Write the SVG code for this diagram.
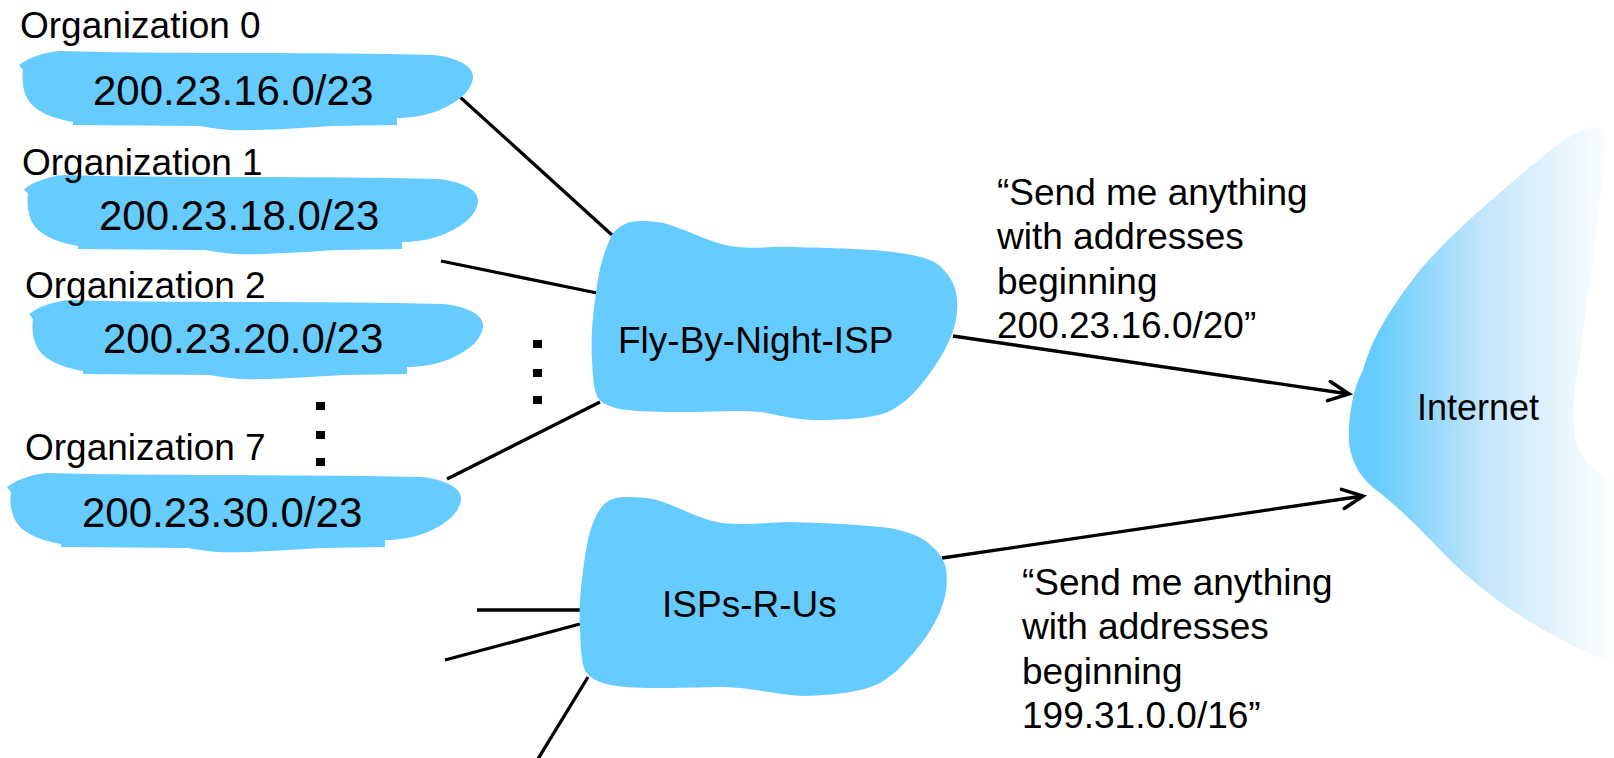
<svg xmlns="http://www.w3.org/2000/svg" width="1614" height="758" viewBox="0 0 1614 758">
  <style>
    .t { font-family: "Liberation Sans", Arial, sans-serif; fill: #000; }
    .lbl { font-size: 37px; }
    .ip { font-size: 42px; }
    .blob { fill: #66CCFF; }
    .ln { stroke: #000; stroke-width: 3.3; fill: none; }
    .dot { fill: #000; }
  </style>
  <defs>
    <path id="orgBlob" d="M 19 65 C 30 57, 45 52, 60 51 C 150 54, 300 52, 433 55 C 462 58, 474 68, 473 78 C 471 90, 462 100, 440 110 C 425 116, 410 118, 397 118 L 397 125 L 333 126 C 300 128, 260 131, 230 130 C 215 129, 207 127, 200 126 L 73 125 L 73 122 C 50 118, 32 110, 26 96 C 22 86, 22 76, 23 70 Z"/>
    <linearGradient id="netGrad" gradientUnits="userSpaceOnUse" x1="1375" y1="0" x2="1614" y2="0">
      <stop offset="0" stop-color="#66CCFF"/>
      <stop offset="0.45" stop-color="#C2E5FB"/>
      <stop offset="1" stop-color="#FFFFFF"/>
    </linearGradient>
    <marker id="arr" markerUnits="userSpaceOnUse" markerWidth="30" markerHeight="30" refX="0" refY="0" viewBox="-24 -12 28 24" orient="auto" overflow="visible">
      <path d="M -19 -9 L 0 0 L -19 9" fill="none" stroke="#000" stroke-width="3.3" stroke-linecap="round" stroke-linejoin="miter"/>
    </marker>
  </defs>

  <!-- Internet -->
  <g id="internet">
    <path d="M 1597 128 C 1606 130, 1607 140, 1605 155 C 1600 210, 1585 320, 1575 390 C 1571 430, 1575 450, 1590 465 C 1600 473, 1608 478, 1614 481 L 1614 662 C 1590 655, 1560 640, 1527 620 C 1500 603, 1480 588, 1453 563 C 1430 540, 1410 517, 1380 493 C 1362 480, 1352 465, 1349 443 C 1348 420, 1352 390, 1363 370 C 1372 340, 1385 315, 1420 270 C 1450 235, 1490 200, 1547 153 C 1570 135, 1585 126, 1597 128 Z" fill="url(#netGrad)"/>
    <text class="t" x="1417" y="420" font-size="36">Internet</text>
  </g>

  <!-- connectors -->
  <g id="connectors">
    <line class="ln" x1="460" y1="97" x2="612" y2="235"/>
    <line class="ln" x1="441" y1="261" x2="597" y2="293"/>
    <line class="ln" x1="447" y1="479" x2="600" y2="402"/>
    <line class="ln" x1="953" y1="336" x2="1349" y2="394" marker-end="url(#arr)"/>
    <line class="ln" x1="942" y1="558" x2="1363" y2="496" marker-end="url(#arr)"/>
    <line class="ln" x1="477" y1="610" x2="580" y2="610"/>
    <line class="ln" x1="445" y1="660" x2="580" y2="624"/>
    <line class="ln" x1="588" y1="677" x2="530" y2="772"/>
  </g>

  <!-- organizations -->
  <g id="org0">
    <use href="#orgBlob" class="blob"/>
    <text class="t lbl" x="20" y="38">Organization 0</text>
    <text class="t ip" x="93" y="105">200.23.16.0/23</text>
  </g>
  <g id="org1">
    <use href="#orgBlob" class="blob" transform="translate(5,124)"/>
    <text class="t lbl" x="22" y="175">Organization 1</text>
    <text class="t ip" x="99" y="230">200.23.18.0/23</text>
  </g>
  <g id="org2">
    <use href="#orgBlob" class="blob" transform="translate(10,249)"/>
    <text class="t lbl" x="25" y="298">Organization 2</text>
    <text class="t ip" x="103" y="353">200.23.20.0/23</text>
  </g>
  <g id="org7">
    <use href="#orgBlob" class="blob" transform="translate(-12,422)"/>
    <text class="t lbl" x="25" y="460">Organization 7</text>
    <text class="t ip" x="82" y="527">200.23.30.0/23</text>
  </g>

  <!-- ellipses -->
  <g id="dots-orgs">
    <rect class="dot" x="316" y="402" width="9" height="8"/>
    <rect class="dot" x="316" y="431" width="9" height="8"/>
    <rect class="dot" x="316" y="458" width="9" height="8"/>
  </g>
  <g id="dots-isp">
    <rect class="dot" x="533" y="340" width="9" height="8"/>
    <rect class="dot" x="533" y="369" width="9" height="8"/>
    <rect class="dot" x="533" y="396" width="9" height="8"/>
  </g>

  <!-- ISPs -->
  <g id="flybynight">
    <path class="blob" d="M 612 235 C 618 226, 628 221, 640 221 C 652 221, 662 222, 670 225 C 695 233, 715 245, 737 247 C 760 249, 775 246, 793 247 C 830 248, 870 249, 893 252 C 915 255, 930 258, 940 266 C 955 280, 960 295, 956 320 C 952 340, 940 360, 927 377 C 915 393, 905 403, 890 411 C 875 418, 850 420, 813 420 C 790 419, 775 414, 760 412 C 735 410, 715 412, 693 412 C 670 412, 645 412, 627 410 C 612 408, 602 404, 598 398 C 594 390, 593 380, 592 360 C 591 340, 592 320, 596 293 C 599 270, 603 253, 612 235 Z"/>
    <text class="t lbl" x="618" y="353">Fly-By-Night-ISP</text>
  </g>
  <g id="ispsrus">
    <path class="blob" d="M 607 502 C 612 498, 620 497, 627 497 C 640 497, 650 498, 657 500 C 680 507, 700 520, 723 523 C 745 526, 770 522, 790 522 C 830 523, 865 525, 890 528 C 905 531, 918 535, 927 542 C 937 550, 942 556, 945 565 C 948 575, 947 590, 944 600 C 940 615, 930 635, 910 657 C 900 668, 893 675, 880 683 C 865 691, 840 695, 803 696 C 780 695, 760 690, 740 688 C 720 686, 700 688, 673 688 C 650 688, 630 688, 617 686 C 602 684, 592 680, 586 672 C 582 665, 581 655, 580 630 C 579 610, 580 595, 583 570 C 586 550, 588 535, 593 523 C 597 513, 601 506, 607 502 Z"/>
    <text class="t lbl" x="662" y="617">ISPs-R-Us</text>
  </g>

  <!-- announcements -->
  <g id="adv-top">
    <text class="t lbl" x="997" y="205">“Send me anything<tspan x="997" dy="44.4">with addresses</tspan><tspan x="997" dy="44.4">beginning</tspan><tspan x="997" dy="44.4">200.23.16.0/20”</tspan></text>
  </g>
  <g id="adv-bottom">
    <text class="t lbl" x="1022" y="595">“Send me anything<tspan x="1022" dy="44.4">with addresses</tspan><tspan x="1022" dy="44.4">beginning</tspan><tspan x="1022" dy="44.4">199.31.0.0/16”</tspan></text>
  </g>
</svg>
